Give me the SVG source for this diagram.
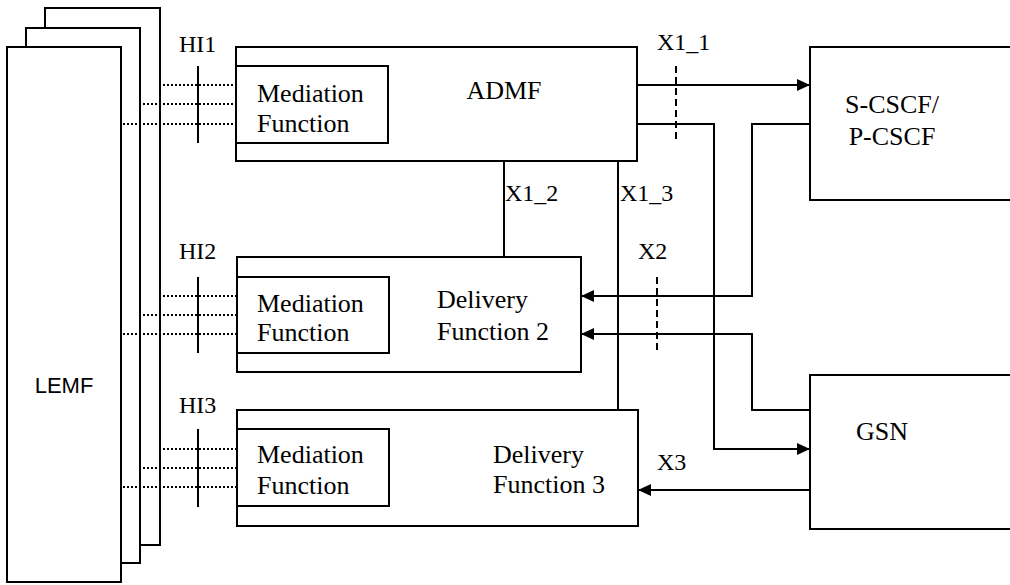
<svg xmlns="http://www.w3.org/2000/svg" width="1010" height="585" viewBox="0 0 1010 585">
<defs>
<marker id="ah" markerUnits="userSpaceOnUse" markerWidth="14" markerHeight="12" refX="13" refY="6" orient="auto">
<path d="M0,0 L13,6 L0,12 Z" fill="#000"/>
</marker>
<style>
.box{fill:#fff;stroke:#000;stroke-width:2}
.ln{fill:none;stroke:#000;stroke-width:2}
.arr{fill:none;stroke:#000;stroke-width:2;marker-end:url(#ah)}
.dot{fill:none;stroke:#000;stroke-width:2;stroke-dasharray:2 2}
.dash{fill:none;stroke:#000;stroke-width:2;stroke-dasharray:7 4}
.t{font-family:"Liberation Serif","Times New Roman",serif;font-size:26px;fill:#000}
.l{font-family:"Liberation Serif","Times New Roman",serif;font-size:24px;fill:#000}
.s{font-family:"Liberation Sans",Arial,sans-serif;font-size:22px;fill:#000}
</style>
</defs>
<rect width="1010" height="585" fill="#fff"/>

<g id="LEMF">
<rect class="box" x="45" y="8" width="115" height="537"/>
<rect class="box" x="26" y="28" width="114" height="535"/>
<rect class="box" x="7" y="47" width="114" height="535"/>
<text class="s" x="64" y="393" text-anchor="middle">LEMF</text>
</g>

<g id="ADMF">
<rect class="box" x="236" y="47" width="401" height="114"/>
<rect class="box" x="236" y="66" width="152" height="77"/>
<text class="t" x="257" y="102">Mediation</text>
<text class="t" x="257" y="132">Function</text>
<text class="t" x="504" y="99" text-anchor="middle">ADMF</text>
</g>

<g id="DF2">
<rect class="box" x="237" y="257" width="344" height="115"/>
<rect class="box" x="237" y="277" width="152" height="76"/>
<text class="t" x="257" y="312">Mediation</text>
<text class="t" x="257" y="341">Function</text>
<text class="t" x="437" y="308">Delivery</text>
<text class="t" x="437" y="340">Function 2</text>
</g>

<g id="DF3">
<rect class="box" x="237" y="410" width="401" height="116"/>
<rect class="box" x="237" y="429" width="152" height="77"/>
<text class="t" x="257" y="463">Mediation</text>
<text class="t" x="257" y="494">Function</text>
<text class="t" x="493" y="463">Delivery</text>
<text class="t" x="493" y="493">Function 3</text>
</g>

<g id="SCSCF">
<rect class="box" x="810" y="47" width="210" height="153"/>
<text class="t" x="892" y="113" text-anchor="middle">S-CSCF/</text>
<text class="t" x="892" y="145" text-anchor="middle">P-CSCF</text>
</g>

<g id="GSN">
<rect class="box" x="810" y="375" width="210" height="154"/>
<text class="t" x="882" y="440" text-anchor="middle">GSN</text>
</g>

<g id="connectors">
<path class="dot" d="M163,85 H236 M143,104 H236 M123,124 H236"/>
<path class="dot" d="M163,296 H237 M143,315 H237 M123,334 H237"/>
<path class="dot" d="M163,449 H237 M143,468 H237 M123,487 H237"/>
<path class="ln" d="M198,66 V143 M198,277 V353 M198,429 V507"/>
<path class="arr" d="M637,85 H810"/>
<path class="arr" d="M637,124 H714 V449 H810"/>
<path class="arr" d="M810,124 H752 V296 H581"/>
<path class="arr" d="M810,410 H752 V334 H581"/>
<path class="arr" d="M810,490 H638"/>
<path class="ln" d="M504,161 V257"/>
<path class="ln" d="M618,161 V410"/>
<path class="dash" d="M676,66 V141"/>
<path class="dash" d="M657,277 V352"/>
</g>

<g id="labels">
<text class="l" x="179" y="52">HI1</text>
<text class="l" x="179" y="259">HI2</text>
<text class="l" x="179" y="413">HI3</text>
<text class="l" x="657" y="50">X1_1</text>
<text class="l" x="505" y="201">X1_2</text>
<text class="l" x="620" y="201">X1_3</text>
<text class="l" x="638" y="259">X2</text>
<text class="l" x="657" y="470">X3</text>
</g>
</svg>
